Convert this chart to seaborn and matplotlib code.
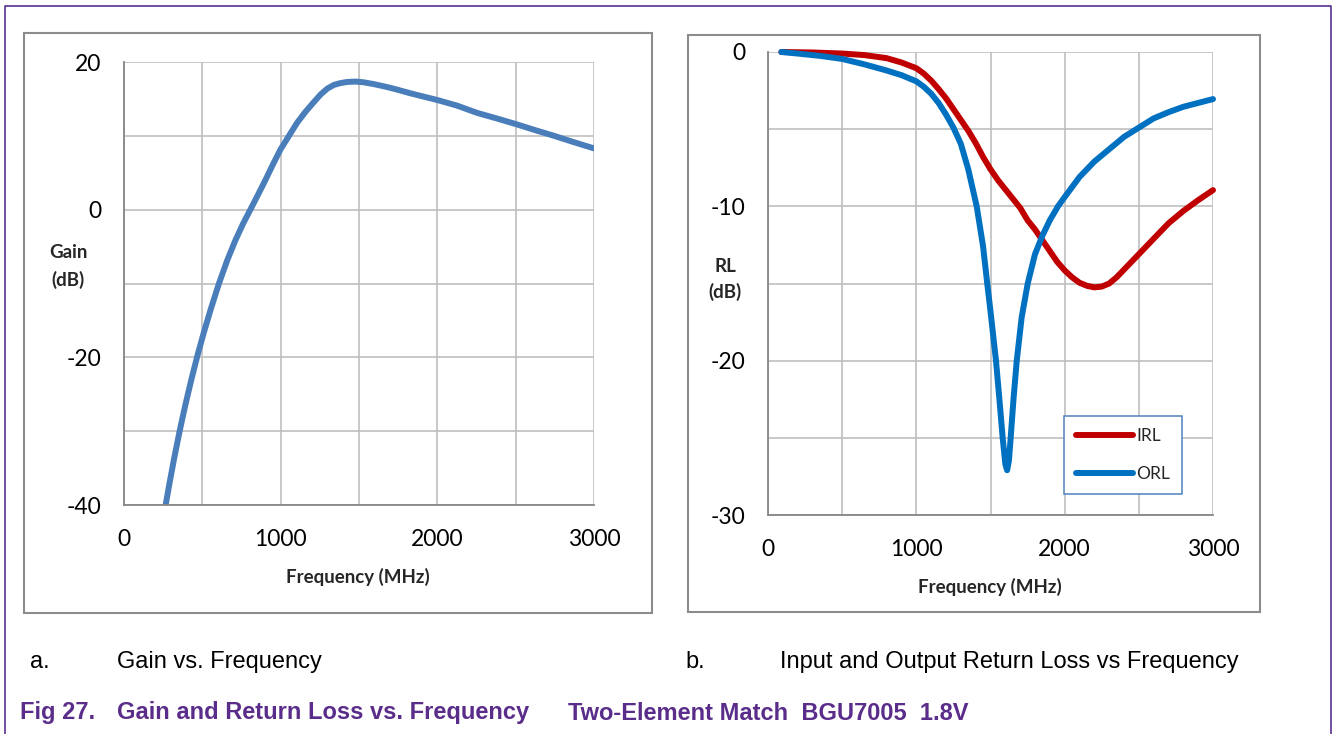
import numpy as np
import pandas as pd
import matplotlib
matplotlib.use("Agg")
import matplotlib.pyplot as plt
import seaborn as sns
from matplotlib.patches import Rectangle
from matplotlib.lines import Line2D
from matplotlib.ticker import MultipleLocator

# Gain vs frequency (MHz, dB)
gain_freq = [266, 290, 320, 355, 390, 430, 472, 510, 555, 606, 660, 710, 760, 809,
             850, 900, 950, 1000, 1053, 1106, 1160, 1213, 1255, 1298, 1340, 1383,
             1426, 1479, 1530, 1596, 1681, 1745, 1830, 1915, 2000, 2125, 2255, 2380,
             2500, 2620, 2745, 2870, 3000]
gain_db = [-40.0, -37.1, -33.7, -30.0, -26.6, -23.0, -19.5, -16.6, -13.4, -10.0,
           -6.8, -4.2, -1.9, 0.1, 1.8, 3.9, 6.1, 8.2, 10.0, 11.8, 13.3, 14.6, 15.6,
           16.4, 16.9, 17.15, 17.3, 17.35, 17.25, 17.0, 16.6, 16.25, 15.75, 15.3,
           14.85, 14.1, 13.1, 12.35, 11.6, 10.8, 10.0, 9.15, 8.3]

# Input return loss (MHz, dB)
irl_freq = [90, 300, 500, 650, 800, 900, 1000, 1050, 1100, 1150, 1200, 1250, 1300,
            1350, 1400, 1450, 1500, 1550, 1600, 1650, 1700, 1750, 1800, 1850, 1900,
            1950, 2000, 2050, 2100, 2150, 2200, 2250, 2300, 2350, 2400, 2450, 2500,
            2600, 2700, 2800, 2900, 3000]
irl_db = [0.0, -0.03, -0.1, -0.2, -0.4, -0.68, -1.05, -1.4, -1.85, -2.4, -3.0, -3.7,
          -4.4, -5.1, -5.9, -6.8, -7.6, -8.3, -8.9, -9.5, -10.1, -10.9, -11.5,
          -12.2, -12.9, -13.6, -14.15, -14.6, -14.95, -15.15, -15.25, -15.2, -15.0,
          -14.6, -14.1, -13.6, -13.1, -12.1, -11.1, -10.3, -9.6, -8.95]

# Output return loss (MHz, dB)
orl_freq = [90, 200, 350, 500, 650, 800, 900, 1000, 1050, 1100, 1150, 1200, 1250,
            1300, 1350, 1407, 1450, 1478, 1500, 1537, 1560, 1582, 1600, 1612, 1624,
            1636, 1655, 1677, 1710, 1751, 1800, 1850, 1900, 1955, 2000, 2100, 2200,
            2300, 2400, 2500, 2600, 2700, 2800, 2900, 3000]
orl_db = [0.0, -0.1, -0.25, -0.45, -0.8, -1.2, -1.5, -1.9, -2.25, -2.7, -3.3, -4.05,
          -4.9, -5.95, -7.6, -10.0, -12.6, -15.0, -16.8, -20.0, -22.5, -25.0, -26.7,
          -27.1, -26.5, -25.0, -22.5, -20.0, -17.2, -15.0, -13.1, -11.9, -10.9,
          -10.0, -9.4, -8.1, -7.1, -6.3, -5.5, -4.9, -4.3, -3.9, -3.55, -3.3, -3.05]

x_ticks = [0, 1000, 2000, 3000]
gain_ticks = [20, 0, -20, -40]
rl_ticks = [0, -10, -20, -30]

sns.set_style("white")
plt.rcParams["font.family"] = ["Lato", "DejaVu Sans"]
plt.rcParams["axes.unicode_minus"] = False

W, H = 1332, 734
fig = plt.figure(figsize=(W / 100, H / 100), dpi=100)


def fx(px):
    return px / W


def fy(py):
    return 1 - py / H


GRID = "#BFBFBF"
AXIS = "#868686"
PURPLE = "#5A2D8A"


def style_axes(ax, yticks, ymin, ymax, ystep):
    ax.set_xlim(0, 3000)
    ax.set_ylim(ymin, ymax)
    ax.set_xticks(x_ticks)
    ax.set_yticks(yticks)
    ax.xaxis.set_minor_locator(MultipleLocator(500))
    ax.yaxis.set_minor_locator(MultipleLocator(ystep))
    ax.grid(True, which="both", color=GRID, linewidth=1.2)
    ax.set_axisbelow(True)
    for s in ("top", "right"):
        ax.spines[s].set_visible(False)
    for s in ("left", "bottom"):
        ax.spines[s].set_color(AXIS)
        ax.spines[s].set_linewidth(1.3)
    ax.tick_params(axis="both", which="major", direction="out", length=6.5,
                   width=1.2, color=AXIS, labelsize=16.5, labelcolor="black")
    ax.tick_params(axis="x", which="major", pad=11)
    ax.tick_params(axis="y", which="major", pad=10)
    ax.tick_params(which="minor", length=0)
    ax.set_xlabel("")
    ax.set_ylabel("")
    ax.set_facecolor("white")


# Panel frames
fig.patches.append(Rectangle((fx(24), fy(613)), fx(652 - 24), (613 - 33) / H,
                             transform=fig.transFigure, fill=False,
                             edgecolor="#8C8C8C", linewidth=1.5, zorder=0))
fig.patches.append(Rectangle((fx(688), fy(612)), fx(1260 - 688), (612 - 35) / H,
                             transform=fig.transFigure, fill=False,
                             edgecolor="#8C8C8C", linewidth=1.5, zorder=0))

# Outer page border
fig.lines.append(Line2D([fx(4.5), fx(4.5), fx(1330.5), fx(1330.5)],
                        [0, fy(6), fy(6), 0], transform=fig.transFigure,
                        color="#4B1F87", linewidth=1.1))

# Left: gain
ax1 = fig.add_axes([fx(124), fy(505), fx(594 - 124), (505 - 62) / H])
df_gain = pd.DataFrame({"Frequency": gain_freq, "Gain": gain_db})
sns.lineplot(data=df_gain, x="Frequency", y="Gain", ax=ax1, color="#4A7EBB",
             linewidth=4.3, sort=False, solid_capstyle="round",
             solid_joinstyle="round")
style_axes(ax1, gain_ticks, -40, 20, 10)

# Right: return loss
ax2 = fig.add_axes([fx(768), fy(515), fx(1213 - 768), (515 - 52) / H])
df_irl = pd.DataFrame({"Frequency": irl_freq, "RL": irl_db})
df_orl = pd.DataFrame({"Frequency": orl_freq, "RL": orl_db})
sns.lineplot(data=df_irl, x="Frequency", y="RL", ax=ax2, color="#C00000",
             linewidth=4.3, sort=False, label="IRL", solid_capstyle="round",
             solid_joinstyle="round", clip_on=False)
sns.lineplot(data=df_orl, x="Frequency", y="RL", ax=ax2, color="#0070C0",
             linewidth=4.3, sort=False, label="ORL", solid_capstyle="round",
             solid_joinstyle="round", clip_on=False)
style_axes(ax2, rl_ticks, -30, 0, 5)
leg = ax2.legend(loc="upper left", bbox_to_anchor=(0.665, 0.214),
                 borderaxespad=0, frameon=True, fancybox=False, fontsize=12.5,
                 handlelength=3.3, handletextpad=0.15, labelspacing=1.25,
                 borderpad=0.7)
leg.get_frame().set_edgecolor("#4F81BD")
leg.get_frame().set_linewidth(1.1)
leg.get_frame().set_alpha(1)
for h in leg.get_lines():
    h.set_linewidth(4.3)
    h.set_solid_capstyle("round")

# Axis titles
bold = dict(fontsize=13.5, fontweight="bold", ha="center", va="center")
fig.text(fx(68), fy(253), "Gain", **bold)
fig.text(fx(68), fy(280), "(dB)", **bold)
fig.text(fx(358), fy(577), "Frequency (MHz)", **bold)
fig.text(fx(725), fy(267), "RL", **bold)
fig.text(fx(725), fy(292), "(dB)", **bold)
fig.text(fx(990), fy(587), "Frequency (MHz)", **bold)

# Sub-captions
cap = dict(fontsize=17, family=["Liberation Sans", "DejaVu Sans"],
           va="center", ha="left", color="black")
fig.text(fx(30), fy(662), "a.", **cap)
fig.text(fx(117), fy(662), "Gain vs. Frequency", **cap)
fig.text(fx(685), fy(662), "b.", **cap)
fig.text(fx(780), fy(662), "Input and Output Return Loss vs Frequency", **cap)

# Figure title
ttl = dict(fontsize=17, family=["Liberation Sans", "DejaVu Sans"],
           fontweight="bold", va="center", ha="left", color=PURPLE)
fig.text(fx(20), fy(713), "Fig 27.", **ttl)
fig.text(fx(117), fy(713), "Gain and Return Loss vs. Frequency", **ttl)
fig.text(fx(568), fy(713), "Two-Element Match  BGU7005  1.8V", **ttl)

fig.savefig("out.png", dpi=100, facecolor="white")
